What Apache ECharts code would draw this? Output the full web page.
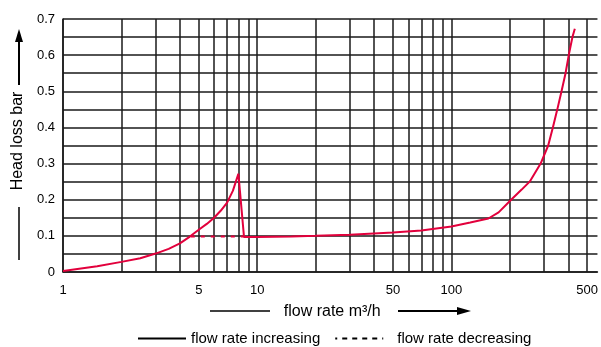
<!DOCTYPE html>
<html><head><meta charset="utf-8">
<script src="https://cdn.jsdelivr.net/npm/echarts@6/dist/echarts.min.js"></script>
<style>html,body{margin:0;padding:0;background:#fff}#c{width:601px;height:347px}</style>
</head><body><div id="c"></div>
<script>
const flowUp = [1, 1.5, 2, 2.5, 3, 3.5, 4, 4.5, 5, 5.5, 6, 6.5, 7, 7.5, 8, 8.55, 10, 15, 20, 30, 50, 70, 100, 125, 155, 175, 203, 230, 253, 288, 315, 333, 351, 369, 387, 402, 420, 432];
const headUp = [0.003, 0.016, 0.028, 0.038, 0.051, 0.064, 0.079, 0.098, 0.117, 0.133, 0.15, 0.17, 0.192, 0.225, 0.272, 0.097, 0.097, 0.098, 0.1, 0.103, 0.109, 0.115, 0.126, 0.137, 0.148, 0.165, 0.2, 0.228, 0.25, 0.3, 0.35, 0.4, 0.45, 0.5, 0.55, 0.6, 0.65, 0.673];
const flowDown = [4.55, 8.55];
const headDown = [0.098, 0.098];
const xGridValues = [1,2,3,4,5,6,7,8,9,10,20,30,40,50,60,70,80,90,100,200,300,400,500];
const xLabelValues = [1,5,10,50,100,500];
const seriesNames = ['flow rate increasing', 'flow rate decreasing'];

const FONT = 'Liberation Sans, Arial, Helvetica, sans-serif';
const RED = '#E2003C';
const GRID = '#1a1a1a';
const chart = echarts.init(document.getElementById('c'), null, {renderer: 'canvas'});
chart.setOption({
  animation: false,
  backgroundColor: '#fff',
  textStyle: {fontFamily: FONT, color: '#000'},
  grid: {left: 63, right: 0, top: 19, bottom: 75},
  xAxis: {
    type: 'log', logBase: 10, min: 1, max: 565,
    name: 'flow rate m³/h', nameLocation: 'middle', nameGap: 32,
    nameTextStyle: {fontSize: 16, color: '#000', fontFamily: FONT, padding: [0, 0, 0, 4]},
    axisLine: {show: true, lineStyle: {color: GRID, width: 1.5}},
    axisTick: {show: false, customValues: xGridValues},
    axisLabel: {customValues: xLabelValues, fontSize: 13, color: '#000', margin: 12, fontFamily: FONT},
    splitLine: {show: true, lineStyle: {color: GRID, width: 1.5}}
  },
  yAxis: {
    type: 'value', min: 0, max: 0.7, interval: 0.1,
    name: 'Head loss bar', nameLocation: 'middle', nameGap: 35, nameRotate: 90,
    nameTextStyle: {fontSize: 16, color: '#000', fontFamily: FONT, padding: [0, 0, 0, 9]},
    axisLine: {show: true, lineStyle: {color: GRID, width: 1.5}},
    axisTick: {show: false},
    axisLabel: {fontSize: 13, color: '#000', margin: 8, fontFamily: FONT,
      formatter: v => v === 0 ? '0' : v.toFixed(1)},
    splitLine: {show: true, lineStyle: {color: GRID, width: 1.5}},
    minorTick: {show: false, splitNumber: 2},
    minorSplitLine: {show: true, lineStyle: {color: GRID, width: 1.5}}
  },
  legend: {
    bottom: 1, left: 137, padding: 0, itemWidth: 48, itemHeight: 10, itemGap: 14,
    textStyle: {fontSize: 15, color: '#000', fontFamily: FONT},
    data: [
      {name: seriesNames[0], lineStyle: {color: '#000', width: 2}, itemStyle: {opacity: 0}},
      {name: seriesNames[1], lineStyle: {color: '#000', width: 2, type: [5, 5], dashOffset: 3}, itemStyle: {opacity: 0},
        textStyle: {padding: [0, 0, 0, 9]}}
    ]
  },
  series: [
    {name: seriesNames[0], type: 'line', symbol: 'none', smooth: false, z: 5,
      lineStyle: {color: RED, width: 2}, itemStyle: {color: RED},
      data: flowUp.map((f, i) => [f, headUp[i]])},
    {name: seriesNames[1], type: 'line', symbol: 'none', z: 4,
      lineStyle: {color: RED, width: 2, type: [4, 6]}, itemStyle: {color: RED},
      data: flowDown.map((f, i) => [f, headDown[i]])}
  ],
  graphic: [
    {type: 'line', shape: {x1: 19, y1: 40, x2: 19, y2: 85}, style: {stroke: '#000', lineWidth: 2}},
    {type: 'polygon', shape: {points: [[19, 29], [15, 42], [23, 42]]}, style: {fill: '#000'}},
    {type: 'line', shape: {x1: 19, y1: 207, x2: 19, y2: 260}, style: {stroke: '#000', lineWidth: 1.5}},
    {type: 'line', shape: {x1: 210, y1: 311, x2: 270, y2: 311}, style: {stroke: '#000', lineWidth: 1.5}},
    {type: 'line', shape: {x1: 398, y1: 311, x2: 458, y2: 311}, style: {stroke: '#000', lineWidth: 2}},
    {type: 'polygon', shape: {points: [[471, 311], [457, 307], [457, 315]]}, style: {fill: '#000'}}
  ]
});
</script></body></html>
